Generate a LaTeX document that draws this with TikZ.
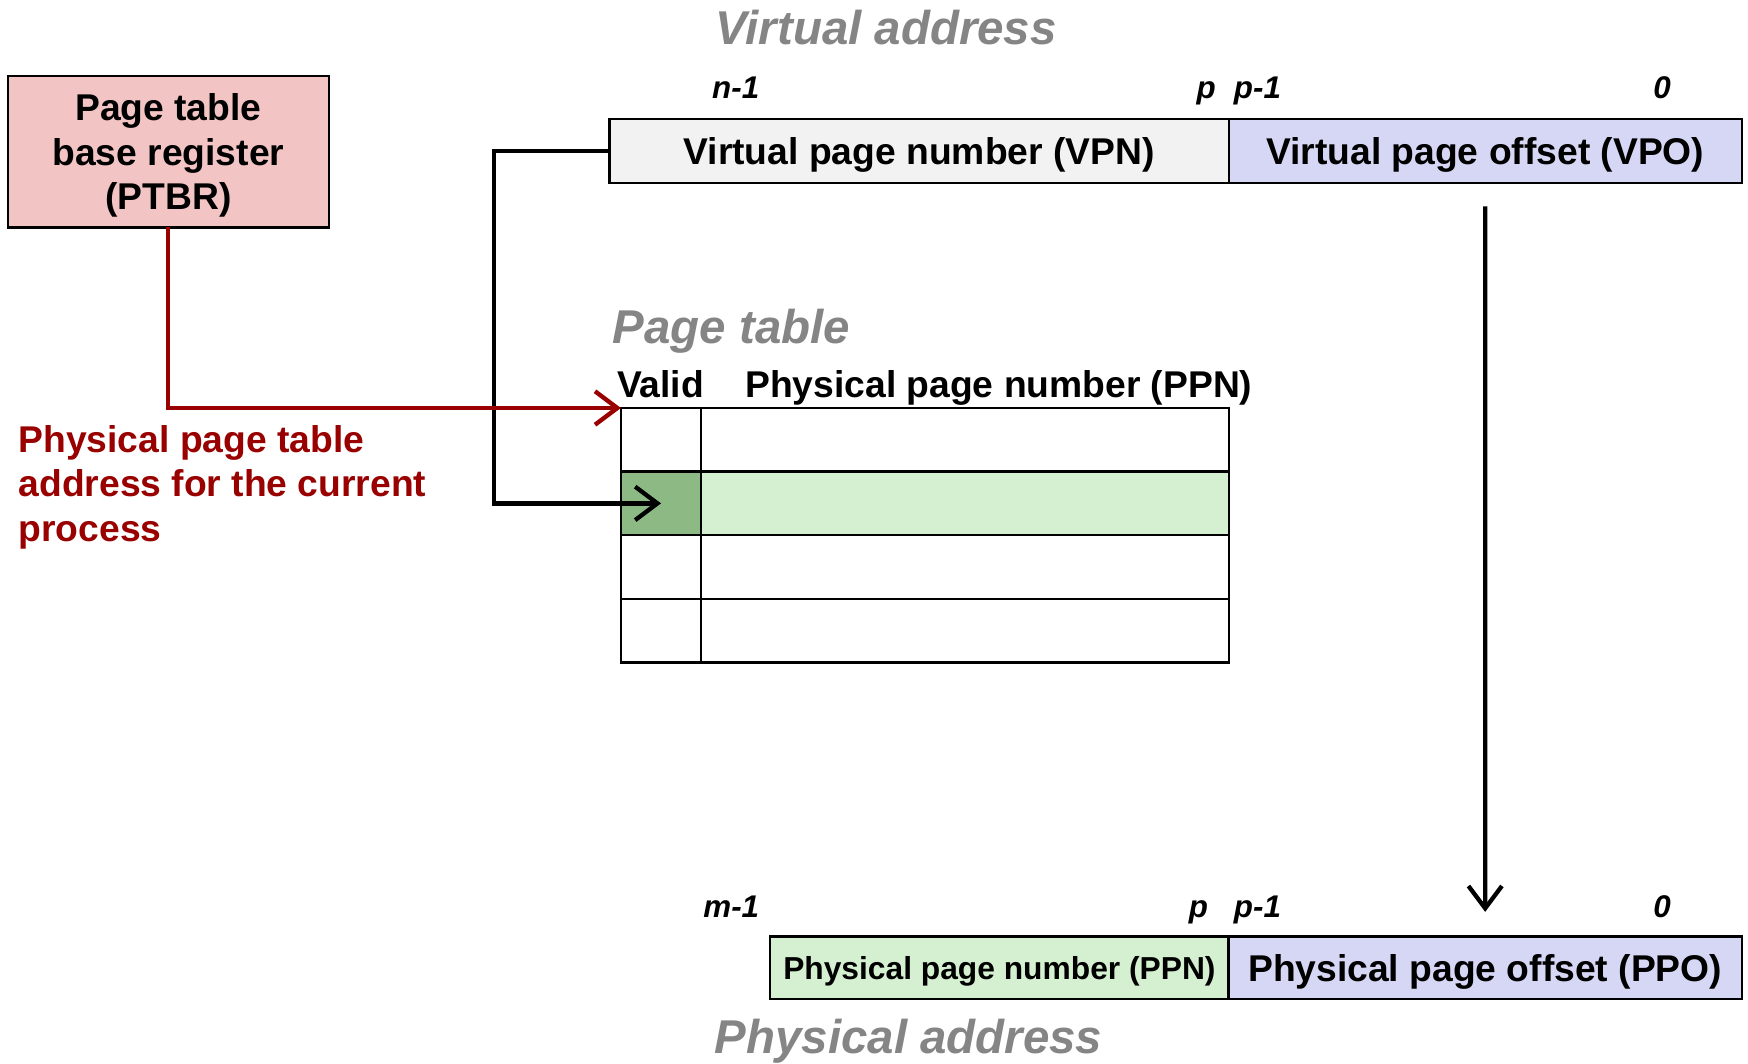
\documentclass[tikz,border=0pt]{standalone}
\usepackage{fontspec}
\setmainfont{Liberation Sans}
\usepackage{xcolor}
\usepackage{tikz}
\usetikzlibrary{positioning,arrows.meta}
\definecolor{ptbrfill}{RGB}{242,196,196}
\definecolor{merah}{RGB}{153,0,0}
\definecolor{abu}{RGB}{133,133,133}
\definecolor{vpnfill}{RGB}{242,242,242}
\definecolor{ungu}{RGB}{214,215,244}
\definecolor{hijaumuda}{RGB}{213,240,208}
\definecolor{hijautua}{RGB}{141,186,132}
\tikzstyle{field} = [rectangle, draw=black, line width=0.6pt, outer sep=0pt, inner sep=0pt, minimum height=0.57cm, text centered, text depth=0pt, font=\bfseries\fontsize{9.5}{11.4}\selectfont]
\tikzstyle{cell} = [rectangle, draw=black, line width=0.6pt, outer sep=0pt, minimum height=0.57cm, minimum width=4.73cm]
\tikzstyle{judul} = [anchor=base, inner sep=0pt, text=abu, font=\bfseries\itshape\fontsize{12.1}{14}\selectfont]
\tikzstyle{kepala} = [anchor=base, inner sep=0pt, font=\bfseries\fontsize{9.5}{11.4}\selectfont]
\tikzstyle{bit} = [anchor=base, inner sep=0pt, font=\bfseries\itshape\fontsize{8}{9}\selectfont]
\tikzstyle{connect1} = [line width=1.1pt, -{Straight Barb[length=0.2cm,width=0.3cm]}]
\tikzstyle{connect3} = [connect1, draw=merah]

\begin{document}
\begin{tikzpicture}[x=0.01cm, y=-0.01cm]
			\useasboundingbox (0,0) rectangle (1568,954);
			% alamat virtual
			\node (vtitle) [judul] at (795,40) {Virtual address};
			\node (vpn) [field, fill=vpnfill, minimum width=5.55cm] at (824.5,135.5) {Virtual page number (VPN)};
			\node (vpo) [field, fill=ungu, minimum width=4.6cm, right=0pt of vpn] {Virtual page offset (VPO)}; % di kanan VPN
			\node (bn1) [bit] at (660,88) {n-1};
			\node (bp) [bit] at (1082,88) {p};
			\node (bp1) [bit] at (1128,88) {p-1};
			\node (b0) [bit] at (1491,88) {0};

			% register PTBR
			\node (ptbr) [field, fill=ptbrfill, minimum width=2.88cm, minimum height=1.36cm, align=center] at (151,136) {Page table\\base register\\(PTBR)};
			\node (ket) [anchor=west, inner sep=0pt, align=left, text=merah, font=\bfseries\fontsize{9.5}{11.4}\selectfont] at (16,437) {Physical page table\\address for the current\\process};

			% tabel halaman
			\node (ttitle) [judul, anchor=base west] at (549,308) {Page table};
			\node (hvalid) [kepala] at (592.5,357) {Valid};
			\node (hppn) [kepala] at (896,357) {Physical page number (PPN)};
			\node (v1) [cell, minimum width=0.72cm] at (593,394.5) {};
			\node (p1) [cell, right=0pt of v1] {};
			\node (v2) [cell, fill=hijautua, minimum width=0.72cm, below=0pt of v1] {};  % baris terpilih
			\node (p2) [cell, fill=hijaumuda, right=0pt of v2] {};
			\node (v3) [cell, minimum width=0.72cm, below=0pt of v2] {};
			\node (p3) [cell, right=0pt of v3] {};
			\node (v4) [cell, minimum width=0.72cm, below=0pt of v3] {};
			\node (p4) [cell, right=0pt of v4] {};

			% alamat fisik
			\node (ppn) [field, fill=hijaumuda, minimum width=4.11cm, minimum height=0.56cm, font=\bfseries\fontsize{8.1}{10}\selectfont] at (896.5,868) {Physical page number (PPN)};
			\node (ppo) [field, fill=ungu, minimum width=4.6cm, minimum height=0.56cm, right=0pt of ppn] {Physical page offset (PPO)};
			\node (bm1) [bit] at (656,823) {m-1};
			\node (bq) [bit] at (1075,823) {p};
			\node (bq1) [bit] at (1128,823) {p-1};
			\node (bq0) [bit] at (1491,823) {0};
			\node (ptitle) [judul] at (815,945) {Physical address};

			% garis koneksi
			\draw [connect1] (vpn.west) -- ++(-104,0) |- (v2.center);
			\draw [connect3] (ptbr.south) |- (v1.north west);
			\draw [connect1] ([yshift=-0.21cm]vpo.south) -- ([yshift=0.22cm]ppo.north);
		\end{tikzpicture}
\end{document}
